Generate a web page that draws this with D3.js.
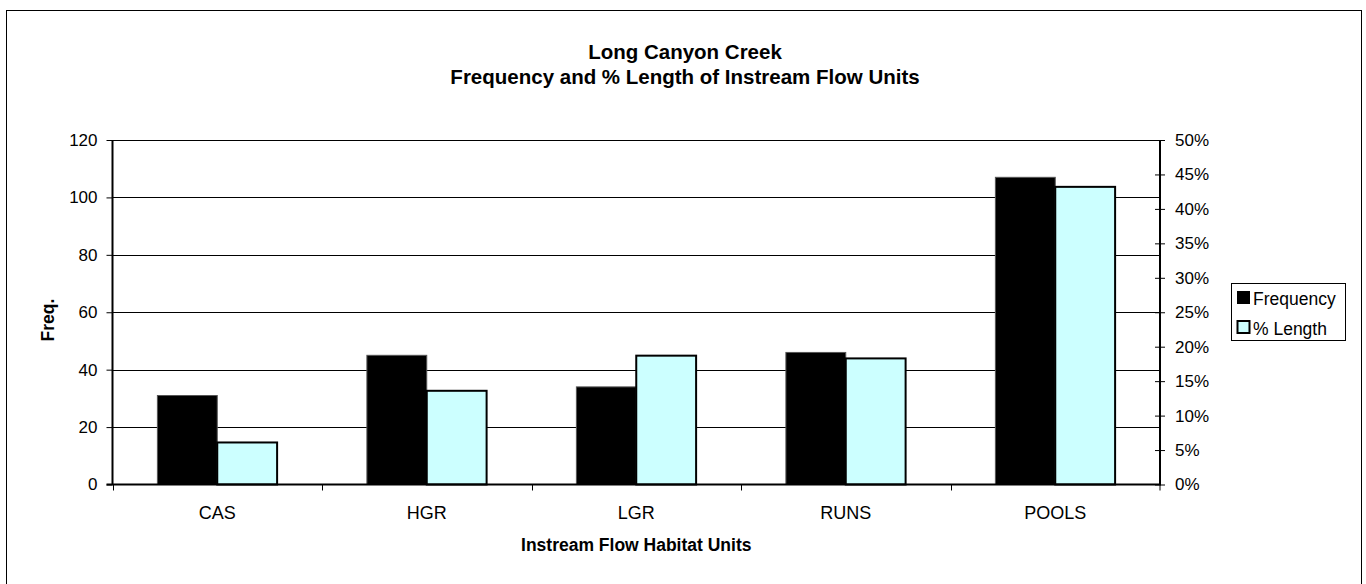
<!DOCTYPE html>
<html>
<head>
<meta charset="utf-8">
<script src="https://cdn.jsdelivr.net/npm/d3@7"></script>
<style>
  html, body { margin: 0; padding: 0; background: #fff; }
  svg { display: block; font-family: "Liberation Sans", Arial, sans-serif; }
</style>
</head>
<body>
<svg id="chart" width="1366" height="584"></svg>
<script>
const categories = ["CAS", "HGR", "LGR", "RUNS", "POOLS"];
const frequency = [31, 45, 34, 46, 107];
const pctLength = [0.061, 0.136, 0.187, 0.183, 0.432];
const leftTicks = [0, 20, 40, 60, 80, 100, 120];
const rightTicks = [0, 0.05, 0.10, 0.15, 0.20, 0.25, 0.30, 0.35, 0.40, 0.45, 0.50];
const seriesNames = ["Frequency", "% Length"];
const titleLines = ["Long Canyon Creek", "Frequency and % Length of Instream Flow Units"];

const svg = d3.select("#chart");
const X0 = 112.5, X1 = 1160, Y0 = 140, Y1 = 484.5;
const FONT = "Liberation Sans, Arial, sans-serif";

// outer border
svg.append("rect").attr("x", 6.5).attr("y", 10.5).attr("width", 1355).attr("height", 574)
  .attr("fill", "none").attr("stroke", "#000").attr("stroke-width", 1);

const x = d3.scaleBand().domain(categories).range([X0, X1]).padding(0);
const yL = d3.scaleLinear().domain([0, 120]).range([Y1, Y0]);
const yR = d3.scaleLinear().domain([0, 0.5]).range([Y1, Y0]);

// gridlines
svg.append("g").selectAll("line").data(leftTicks.filter(d => d > 0)).join("line")
  .attr("x1", X0).attr("x2", X1)
  .attr("y1", d => Math.round(yL(d)) + 0.5).attr("y2", d => Math.round(yL(d)) + 0.5)
  .attr("stroke", "#000").attr("stroke-width", 1);

// bars
const bw = x.bandwidth() / 3.5;
const g = svg.append("g");
g.selectAll("rect.freq").data(categories).join("rect").attr("class", "freq")
  .attr("x", (d) => x(d) + bw * 0.75)
  .attr("y", (d, i) => yL(frequency[i]))
  .attr("width", bw)
  .attr("height", (d, i) => Y1 - yL(frequency[i]))
  .attr("fill", "#000").attr("stroke", "#555").attr("stroke-width", 1);
g.selectAll("rect.pct").data(categories).join("rect").attr("class", "pct")
  .attr("x", (d) => x(d) + bw * 1.75)
  .attr("y", (d, i) => yR(pctLength[i]))
  .attr("width", bw)
  .attr("height", (d, i) => Y1 - yR(pctLength[i]))
  .attr("fill", "#CCFFFF").attr("stroke", "#000").attr("stroke-width", 2);

// left axis
const la = svg.append("g").attr("transform", `translate(${X0},0)`)
  .call(d3.axisLeft(yL).tickValues(leftTicks).tickSize(6).tickPadding(9).tickFormat(d3.format("d")));
la.select(".domain").attr("stroke", "#000").attr("stroke-width", 2).attr("d", `M0,${Y0}V${Y1}`);
la.selectAll("text").attr("font-size", 17).attr("fill", "#000").attr("font-family", FONT);

// right axis
const ra = svg.append("g").attr("transform", `translate(${X1},0)`)
  .call(d3.axisRight(yR).tickValues(rightTicks).tickSize(5).tickPadding(10).tickFormat(d3.format(".0%")));
ra.select(".domain").attr("stroke", "#000").attr("stroke-width", 2).attr("d", `M0,${Y0}V${Y1}`);
ra.selectAll(".tick line").attr("x1", -5);
ra.selectAll("text").attr("font-size", 17).attr("fill", "#000").attr("font-family", FONT);

// bottom axis
const ba = svg.append("g").attr("transform", `translate(0,${Y1})`)
  .call(d3.axisBottom(x).tickSize(0).tickPadding(22));
ba.select(".domain").remove();
ba.selectAll("text").attr("font-size", 18).attr("fill", "#000").attr("font-family", FONT);
svg.append("g").selectAll("line").data(categories.concat(["end"])).join("line")
  .attr("x1", (d, i) => i < categories.length ? Math.round(x(d)) + 0.5 : X1)
  .attr("x2", (d, i) => i < categories.length ? Math.round(x(d)) + 0.5 : X1)
  .attr("y1", Y1).attr("y2", Y1 + 6).attr("stroke", "#000");
svg.append("line").attr("x1", X0 - 6).attr("x2", X1 + 1).attr("y1", Y1).attr("y2", Y1)
  .attr("stroke", "#000").attr("stroke-width", 2);

// titles
svg.append("g").selectAll("text").data(titleLines).join("text")
  .attr("x", 685).attr("y", (d, i) => 59 + i * 25)
  .attr("text-anchor", "middle").attr("font-weight", "bold").attr("font-size", 20.5)
  .text(d => d);

svg.append("text").attr("transform", `translate(54,320) rotate(-90)`)
  .attr("text-anchor", "middle").attr("font-weight", "bold").attr("font-size", 17.5).text("Freq.");

svg.append("text").attr("x", (X0 + X1) / 2).attr("y", 551)
  .attr("text-anchor", "middle").attr("font-weight", "bold").attr("font-size", 17.5)
  .text("Instream Flow Habitat Units");

// legend
const lg = svg.append("g");
lg.append("rect").attr("x", 1231.5).attr("y", 283.5).attr("width", 114).attr("height", 57)
  .attr("fill", "#fff").attr("stroke", "#000");
const items = lg.selectAll("g.item").data(seriesNames).join("g").attr("class", "item")
  .attr("transform", (d, i) => `translate(1237,${291 + i * 29.5})`);
items.append("rect").attr("x", 0.5).attr("y", 0.5).attr("width", 12).attr("height", 12)
  .attr("fill", (d, i) => i === 0 ? "#000" : "#CCFFFF").attr("stroke", "#000").attr("stroke-width", (d, i) => i === 0 ? 1 : 2);
items.append("text").attr("x", 16).attr("y", 14).attr("font-size", 17.5).text(d => d);
</script>
</body>
</html>
